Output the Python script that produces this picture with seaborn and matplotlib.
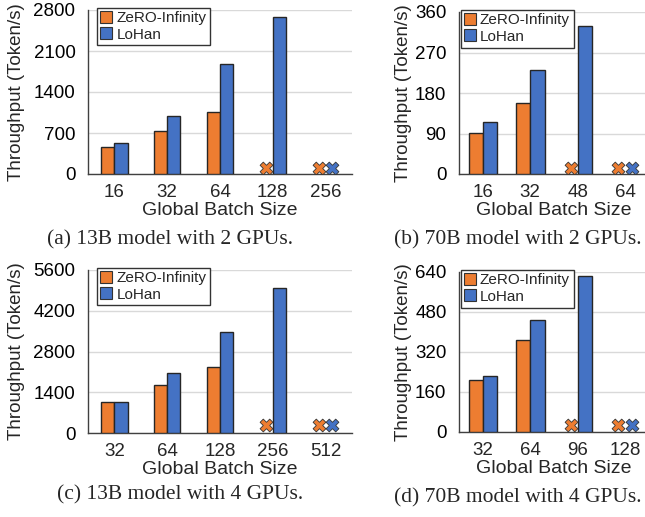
import matplotlib
matplotlib.use("Agg")
import matplotlib.pyplot as plt
import numpy as np
import pandas as pd
import seaborn as sns
from matplotlib.lines import Line2D

# --------------------------------------------------------------------------- #
# Data (throughput in tokens/s; NaN = out of memory, drawn as a cross)
# --------------------------------------------------------------------------- #
SYSTEMS = ["ZeRO-Infinity", "LoHan"]
COLORS = ["#ED7D31", "#4472C4"]

a_batch = ["16", "32", "64", "128", "256"]
a_zero = [465, 731, 1054, np.nan, np.nan]
a_lohan = [527, 992, 1870, 2681, np.nan]
a_yticks = [0, 700, 1400, 2100, 2800]
a_oom = 100

b_batch = ["16", "32", "48", "64"]
b_zero = [92, 158, np.nan, np.nan]
b_lohan = [115, 231, 329, np.nan]
b_yticks = [0, 90, 180, 270, 360]
b_oom = 14

c_batch = ["32", "64", "128", "256", "512"]
c_zero = [1051, 1657, 2263, np.nan, np.nan]
c_lohan = [1051, 2046, 3474, 4971, np.nan]
c_yticks = [0, 1400, 2800, 4200, 5600]
c_oom = 286

d_batch = ["32", "64", "96", "128"]
d_zero = [207, 370, np.nan, np.nan]
d_lohan = [223, 447, 624, np.nan]
d_yticks = [0, 160, 320, 480, 640]
d_oom = 29

captions = [
    "(a) 13B model with 2 GPUs.",
    "(b) 70B model with 2 GPUs.",
    "(c) 13B model with 4 GPUs.",
    "(d) 70B model with 4 GPUs.",
]

sns.set_theme(style="white")
plt.rcParams["font.family"] = ["Liberation Sans", "DejaVu Sans"]

W, H = 645, 517
fig = plt.figure(figsize=(W / 100, H / 100), dpi=100)


def px_axes(left, top, right, bottom):
    return fig.add_axes([left / W, 1 - bottom / H, (right - left) / W, (bottom - top) / H])


def panel(ax, batch, zero, lohan, yticks, oom, width, label_x, legend_x):
    df = pd.DataFrame({
        "batch": batch * 2,
        "tput": list(zero) + list(lohan),
        "system": [SYSTEMS[0]] * len(batch) + [SYSTEMS[1]] * len(batch),
    })
    sns.barplot(data=df, x="batch", y="tput", hue="system", order=batch,
                hue_order=SYSTEMS, palette=COLORS, saturation=1, width=width,
                errorbar=None, edgecolor="#262626", linewidth=1.0,
                legend=False, ax=ax, zorder=3)

    # crosses where a run went out of memory
    idx = np.arange(len(batch))
    for vals, off, col in [(zero, -width / 4, COLORS[0]), (lohan, width / 4, COLORS[1])]:
        miss = np.isnan(np.asarray(vals, dtype=float))
        ax.scatter(idx[miss] + off, np.full(miss.sum(), oom), marker="X", s=85,
                   color=col, edgecolor="#333333", linewidth=0.6, zorder=4)

    ax.set_xlim(-0.5, len(batch) - 0.5)
    ax.set_ylim(0, yticks[-1])
    ax.set_yticks(yticks)
    ax.set_yticklabels([str(t) for t in yticks])
    ax.yaxis.grid(True, color="#d9d9d9", linewidth=1.0, zorder=0)
    ax.set_axisbelow(True)
    ax.tick_params(axis="y", length=0, pad=9, labelsize=13.5, colors="black")
    ax.tick_params(axis="x", which="major", length=0, pad=7, labelsize=13.5)
    ax.set_xticks(np.arange(-0.5, len(batch)), minor=True)
    ax.tick_params(axis="x", which="minor", length=5, width=1.0,
                   direction="out", color="#262626")

    for side in ["top", "right"]:
        ax.spines[side].set_visible(False)
    for side in ["left", "bottom"]:
        ax.spines[side].set_color("#404040")
        ax.spines[side].set_linewidth(1.0)

    ax.set_xlabel("Global Batch Size", fontsize=14, labelpad=1)
    ax.set_ylabel("Throughput (Token/s)", fontsize=13.5)
    ax.yaxis.set_label_coords(label_x, 0.5)

    handles = [Line2D([], [], marker="s", ls="", mfc=c, mec="#333333", mew=0.8, ms=8)
               for c in COLORS]
    leg = ax.legend(handles, SYSTEMS, loc="upper left",
                    bbox_to_anchor=(legend_x, 1.015), fontsize=11,
                    handlelength=0.7, handletextpad=0.3, labelspacing=0.15,
                    borderpad=0.25, borderaxespad=0, fancybox=False,
                    framealpha=1, edgecolor="#333333")
    leg.get_frame().set_linewidth(1.0)
    leg.set_zorder(5)


ax_a = px_axes(88, 10, 352, 174)
ax_b = px_axes(459, 12, 649, 174)
ax_c = px_axes(88, 270, 352, 433)
ax_d = px_axes(459, 272, 649, 432)

panel(ax_a, a_batch, a_zero, a_lohan, a_yticks, a_oom, 0.5, -0.24, 0.035)
panel(ax_b, b_batch, b_zero, b_lohan, b_yticks, b_oom, 0.6, -0.25, 0.01)
panel(ax_c, c_batch, c_zero, c_lohan, c_yticks, c_oom, 0.5, -0.24, 0.035)
panel(ax_d, d_batch, d_zero, d_lohan, d_yticks, d_oom, 0.6, -0.25, 0.01)

serif = ["Liberation Serif", "DejaVu Serif"]
for (cx, cy), text in zip([(170, 240), (518, 240), (180, 495), (518, 498)], captions):
    fig.text(cx / W, 1 - cy / H, text, ha="center", va="center",
             fontsize=15.5, family=serif)

fig.savefig("out.png", dpi=100)
